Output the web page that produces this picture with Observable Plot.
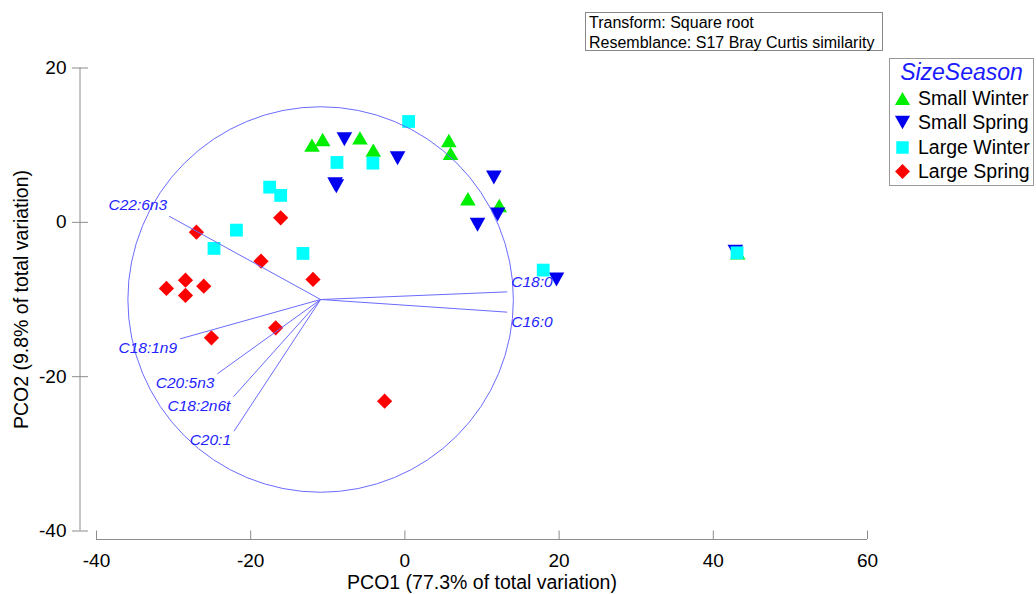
<!DOCTYPE html>
<html>
<head>
<meta charset="utf-8">
<script src="https://cdn.jsdelivr.net/npm/d3@7"></script>
<script src="https://cdn.jsdelivr.net/npm/@observablehq/plot@0.6"></script>
<style>
  body { margin: 0; background: #fff; font-family: "Liberation Sans", Arial, sans-serif; }
  #wrap { position: relative; width: 1036px; height: 594px; overflow: hidden; }
  #note { position: absolute; left: 585px; top: 12px; width: 298px; height: 39px; box-sizing: border-box;
          border: 1px solid #888; font-size: 16px; line-height: 20px; padding: 0 0 0 3px; color: #000; white-space: nowrap; }
  #legend { position: absolute; left: 889px; top: 58px; width: 145px; height: 128px; box-sizing: border-box;
            border: 1px solid #999; background: #fff; }
  #legend .title { text-align: center; font-style: italic; color: #1a1aff; font-size: 23px; line-height: 27px; margin-top: 0px; }
  #legend .row { display: flex; align-items: center; height: 24.5px; font-size: 19.5px; color: #000; white-space: nowrap; }
  #legend .row svg { margin-left: 4px; margin-right: 7px; flex: none; }
</style>
</head>
<body>
<div id="wrap">
  <div id="chart"></div>
  <div id="note"></div>
  <div id="legend"></div>
</div>
<script>
// ---------- data ----------
const groups = ["Small Winter", "Small Spring", "Large Winter", "Large Spring"];
const groupColors = ["#00ee00", "#0000ee", "#00ffff", "#ff0000"];

const smallWinterX = [-12.05, -10.67, -5.83, -4.10, 5.70, 5.92, 8.17, 12.24, 43.16];
const smallWinterY = [10.00, 10.74, 10.95, 9.36, 10.61, 8.93, 3.05, 2.19, -3.95];

const smallSpringX = [-7.85, -0.95, -9.05, -8.89, 11.54, 12.02, 9.42, 19.66, 42.86];
const smallSpringY = [10.78, 8.32, 4.95, 4.69, 5.82, 1.02, -0.32, -7.40, -3.82];

const largeWinterX = [0.48, -8.81, -4.15, -17.54, -16.11, -21.85, -24.76, -13.22, 17.94, 43.08];
const largeWinterY = [13.07, 7.76, 7.67, 4.56, 3.49, -1.01, -3.38, -4.03, -6.19, -3.95];

const largeSpringX = [-16.11, -27.04, -18.66, -11.92, -30.93, -28.46, -26.09, -28.46, -16.76, -25.09, -2.63];
const largeSpringY = [0.58, -1.27, -5.03, -7.40, -8.57, -7.49, -8.27, -9.47, -13.67, -14.97, -23.17];

const vectorNames = ["C22:6n3", "C18:0", "C16:0", "C18:1n9", "C20:5n3", "C18:2n6t", "C20:1"];
const vectorX = [-30.59, 13.27, 13.27, -29.16, -24.32, -22.24, -22.16];
const vectorY = [0.80, -9.01, -11.64, -15.10, -19.63, -22.61, -27.06];
const vectorOriginX = -10.93;
const vectorOriginY = -10.0;
const circleRadius = 25;

const xTicks = [-40, -20, 0, 20, 40, 60];
const yTicks = [-40, -20, 0, 20];
const xTitle = "PCO1 (77.3% of total variation)";
const yTitle = "PCO2 (9.8% of total variation)";
const noteLines = ["Transform: Square root", "Resemblance: S17 Bray Curtis similarity"];
const legendTitle = "SizeSeason";

// ---------- tables ----------
const seriesX = [smallWinterX, smallSpringX, largeWinterX, largeSpringX];
const seriesY = [smallWinterY, smallSpringY, largeWinterY, largeSpringY];
const points = groups.flatMap((g, i) => seriesX[i].map((x, j) => ({group: g, x, y: seriesY[i][j]})));
const vectors = vectorNames.map((name, i) => ({name, x1: vectorOriginX, y1: vectorOriginY, x2: vectorX[i], y2: vectorY[i]}));

// ---------- symbols ----------
function polySymbol(pts) {
  return {
    draw(ctx, size) {
      const k = Math.sqrt(size / Math.PI) / 8;
      ctx.moveTo(pts[0][0] * k, pts[0][1] * k);
      for (let i = 1; i < pts.length; i++) ctx.lineTo(pts[i][0] * k, pts[i][1] * k);
      ctx.closePath();
    }
  };
}
const shapePts = [
  [[0, -6.7], [7.8, 6.7], [-7.8, 6.7]],
  [[-7.8, -7], [7.8, -7], [0, 7]],
  [[-6.4, -6.4], [6.4, -6.4], [6.4, 6.4], [-6.4, 6.4]],
  [[0, -7.6], [7.6, 0], [0, 7.6], [-7.6, 0]]
];
const symbols = shapePts.map(polySymbol);

// ---------- plot ----------
const W = 1036, H = 594;
const mL = 96, mR = 169, mT = 67.5, mB = 63.5;
const xDomain = [-40, 60], yDomain = [-40, 20];
const pxPerUnit = (W - mL - mR) / (xDomain[1] - xDomain[0]);

const lineBlue = "#6b6bff";
const labelBlue = "#2323ff";
const axisGrey = "#8c8c8c";

const labelStyle = {
  "C22:6n3": {textAnchor: "end", dx: -2, dy: -11},
  "C18:0": {textAnchor: "start", dx: 4, dy: -10},
  "C16:0": {textAnchor: "start", dx: 4, dy: 10}
};
const defaultLabel = {textAnchor: "end", dx: -3, dy: 9};
const labelMarks = [
  ...Object.entries(labelStyle).map(([name, s]) =>
    Plot.text(vectors.filter(d => d.name === name), {x: "x2", y: "y2", text: "name", ...s,
      fill: labelBlue, fontSize: 15.5, fontStyle: "italic"})),
  Plot.text(vectors.filter(d => !(d.name in labelStyle)), {x: "x2", y: "y2", text: "name", ...defaultLabel,
    fill: labelBlue, fontSize: 15.5, fontStyle: "italic"})
];

const chart = Plot.plot({
  width: W, height: H,
  marginLeft: mL, marginRight: mR, marginTop: mT, marginBottom: mB,
  style: {fontFamily: "'Liberation Sans', Arial, sans-serif", background: "transparent"},
  x: {domain: xDomain, label: null},
  y: {domain: yDomain, label: null},
  color: {domain: groups, range: groupColors},
  symbol: {domain: groups, range: symbols},
  marks: [
    Plot.axisX({ticks: xTicks, tickSize: 8.5, tickPadding: 14, stroke: axisGrey, fill: "#000", fontSize: 19,
      tickFormat: d => String(d), label: null}),
    Plot.ruleY([yDomain[0]], {x1: xDomain[0], x2: xDomain[1], dy: 8.5, stroke: axisGrey}),
    Plot.axisY({ticks: yTicks, tickSize: 16, dx: -8, tickPadding: 6, stroke: axisGrey, fill: "#000", fontSize: 19,
      tickFormat: d => String(d), label: null}),
    Plot.ruleX([xDomain[0]], {y1: yDomain[0], y2: yDomain[1], dx: -16.5, stroke: axisGrey}),
    Plot.text([xTitle], {frameAnchor: "bottom", lineAnchor: "middle", textAnchor: "middle", dy: 51.5,
      fontSize: 19.5, fill: "#000"}),
    Plot.text([yTitle], {frameAnchor: "left", lineAnchor: "middle", textAnchor: "middle", rotate: -90, dx: -75,
      fontSize: 19.5, fill: "#000"}),
    Plot.dot(points, {x: "x", y: "y", symbol: "group", fill: "group", r: 8, stroke: null}),
    Plot.dot([{x: vectorOriginX, y: vectorOriginY}], {x: "x", y: "y", r: circleRadius * pxPerUnit,
      stroke: lineBlue, fill: "none", strokeWidth: 1}),
    Plot.link(vectors, {x1: "x1", y1: "y1", x2: "x2", y2: "y2", stroke: lineBlue, strokeWidth: 1}),
    ...labelMarks
  ]
});
document.getElementById("chart").append(chart);

// ---------- note box ----------
const note = document.getElementById("note");
noteLines.forEach(t => { const d = document.createElement("div"); d.textContent = t; note.append(d); });

// ---------- legend ----------
const legend = document.getElementById("legend");
const tdiv = document.createElement("div");
tdiv.className = "title"; tdiv.textContent = legendTitle;
legend.append(tdiv);
groups.forEach((g, i) => {
  const row = document.createElement("div");
  row.className = "row";
  const svg = d3.create("svg").attr("width", 17).attr("height", 17);
  svg.append("path").attr("transform", "translate(8.5,8.5)")
    .attr("d", d3.symbol(symbols[i], Math.PI * 8 * 8 * 0.95)())
    .attr("fill", groupColors[i]);
  row.append(svg.node());
  const span = document.createElement("span");
  span.textContent = g;
  row.append(span);
  legend.append(row);
});
</script>
</body>
</html>
